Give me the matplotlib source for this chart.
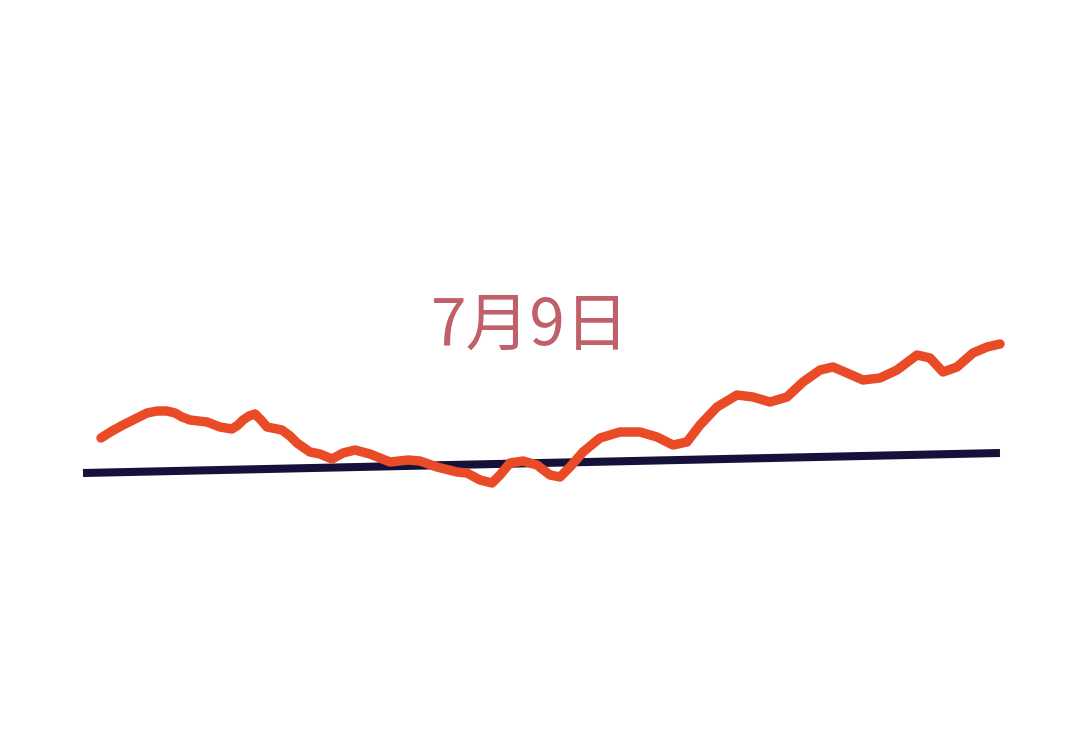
import matplotlib
matplotlib.use("Agg")

import matplotlib.pyplot as plt

# orange trace (x position, height above bottom edge)
trend_x = [101, 112, 123, 135, 147, 157, 167, 175, 182, 190, 207, 220, 232, 238,
           243, 249, 255, 261, 267, 282, 290, 297, 310, 320, 332, 343, 355, 370,
           390, 408, 420, 437, 457, 467, 480, 492, 500, 510, 523, 537, 550, 560,
           570, 583, 600, 620, 640, 657, 673, 687, 700, 717, 737, 753, 770, 787,
           803, 820, 833, 847, 863, 880, 897, 917, 930, 943, 957, 973, 987, 1000]
trend_y = [313, 320, 326, 332, 338, 340, 340, 338, 334, 331, 329, 324, 322, 326,
           331, 335, 337, 331, 324, 321, 315, 308, 299, 297, 292, 298, 301, 297,
           289, 291, 290, 284, 279, 278, 271, 268, 276, 288, 290, 286, 276, 274,
           284, 299, 313, 319, 319, 314, 306, 309, 326, 344, 356, 354, 349, 354,
           369, 381, 384, 378, 371, 373, 381, 396, 393, 379, 384, 398, 404, 407]

# dark reference line
base_x = [83, 1000]
base_y = [278, 298]

label = "7月9日"

fig = plt.figure(figsize=(10.8, 7.51), dpi=100)
ax = fig.add_axes([0, 0, 1, 1])
ax.set_xlim(0, 1080)
ax.set_ylim(0, 751)
ax.axis("off")

ax.plot(base_x, base_y, color="#15123a", linewidth=5.8,
        solid_capstyle="butt", zorder=1)
ax.plot(trend_x, trend_y, color="#e94b27", linewidth=6.8,
        solid_capstyle="round", solid_joinstyle="round", zorder=2)

ax.text(530, 425, label, color="#c0606a", fontsize=46, ha="center", va="center",
        family=["Noto Sans CJK SC", "DejaVu Sans"], fontweight="light")

fig.savefig("out.png", dpi=100)
plt.close(fig)
